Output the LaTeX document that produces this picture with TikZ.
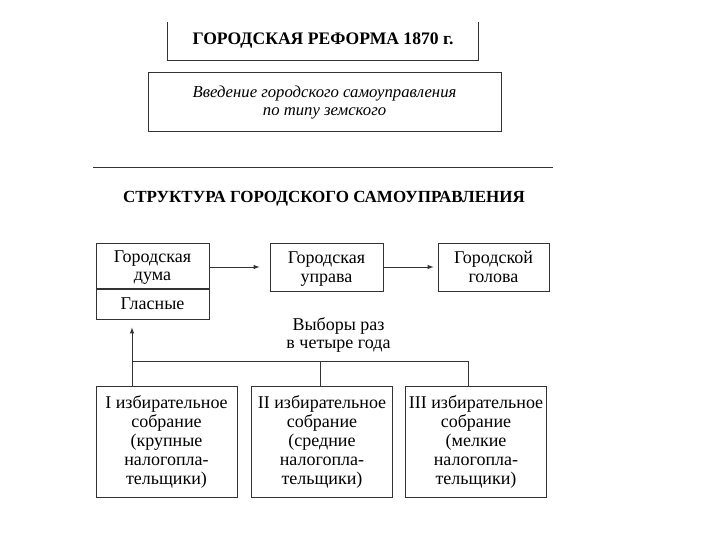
\documentclass[tikz,border=0pt]{standalone}
\usepackage{fontspec}
\setmainfont{Liberation Serif}
\usetikzlibrary{arrows}

\begin{document}
\begin{tikzpicture}[x=1pt,y=-1pt]
  % Styles
  \tikzstyle{frame}=[draw=black!80,line width=1pt]
  \tikzstyle{box}=[frame,align=center,inner sep=0pt,
    font=\fontsize{18}{18.5}\selectfont]
  \tikzstyle{heading}=[inner sep=0pt,font=\fontsize{17}{20}\selectfont\bfseries]
  \tikzstyle{link}=[frame,-latex]

  \useasboundingbox (0,0) rectangle (720,540);

  % Top of the page
  \node[heading,minimum width=310,minimum height=38,
    font=\fontsize{17.6}{20}\selectfont\bfseries] (reform) at (323,41)
    {ГОРОДСКАЯ РЕФОРМА 1870 г.};
  \draw[frame] (reform.north west) -- (reform.south west)
    -- (reform.south east) -- (reform.north east);

  \node[box,minimum width=353,minimum height=59,
    font=\fontsize{16.7}{18.5}\selectfont\itshape] (intro) at (324.5,102.5)
    {Введение городского самоуправления\\по типу земского};

  \draw[frame] (93,168) -- (553,168);

  % The structure
  \node[heading] (title) at (324,199) {СТРУКТУРА ГОРОДСКОГО САМОУПРАВЛЕНИЯ};

  \node[box,minimum width=113,minimum height=45,text depth=0pt] (duma)
    at (152.5,265.5) {Городская\\дума};
  \node[box,minimum width=113,minimum height=30,anchor=north] (glas)
    at (duma.south) {Гласные};
  \node[box,minimum width=113,minimum height=48,text depth=0pt] (uprava)
    at (326.5,267) {Городская\\управа};
  \node[box,minimum width=111,minimum height=48,text depth=0pt] (golova)
    at (493.5,267) {Городской\\голова};

  \draw[link,shorten >=10pt] (duma.east |- uprava) -- (uprava);
  \draw[link,shorten >=4pt] (uprava) -- (golova);

  \node[align=center,inner sep=0pt,font=\fontsize{18}{17.5}\selectfont]
    (vote) at (338.5,335) {Выборы раз\\в четыре года};

  \foreach \name/\cx/\num/\kind in {sob1/166.5/I/крупные,
      sob2/322/II/средние, sob3/476/III/мелкие}
    \node[box,minimum width=141,minimum height=111,
      font=\fontsize{18}{19}\selectfont] (\name) at (\cx,442)
      {\num{} избирательное\\собрание\\(\kind\\налогопла-\\тельщики)};

  \coordinate (j1) at (132,361);
  \coordinate (j2) at (320,361);
  \coordinate (j3) at (468,361);

  \draw[frame] (j1 |- sob1.north) -- (j1) -- (j3) -- (j3 |- sob3.north);
  \draw[frame] (j2) -- (j2 |- sob2.north);
  \draw[link,shorten >=8pt] (j1) -- (j1 |- glas.south);
\end{tikzpicture}
\end{document}
